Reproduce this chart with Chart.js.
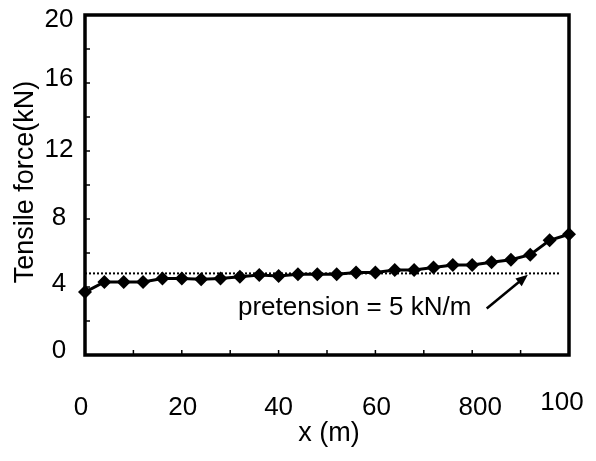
<!DOCTYPE html>
<html>
<head>
<meta charset="utf-8">
<script src="https://cdn.jsdelivr.net/npm/chart.js@4/dist/chart.umd.min.js"></script>
<style>
  html, body { margin: 0; padding: 0; background: #fff; }
  #wrap { width: 596px; height: 461px; }
</style>
</head>
<body>
<div id="wrap"><canvas id="chart" width="596" height="461"></canvas></div>
<script>
// ---------------------------------------------------------------
// data
// ---------------------------------------------------------------
var xValues = [0, 4, 8, 12, 16, 20, 24, 28, 32, 36, 40, 44, 48, 52, 56, 60, 64, 68, 72, 76, 80, 84, 88, 92, 96, 100];
var forceValues = [3.7, 4.3, 4.3, 4.3, 4.5, 4.5, 4.45, 4.5, 4.6, 4.7, 4.65, 4.75, 4.75, 4.75, 4.85, 4.85, 5.0, 5.0, 5.15, 5.3, 5.3, 5.45, 5.6, 5.9, 6.75, 7.1];
var pretensionX = [0, 98];
var pretensionY = [4.8, 4.8];
var xTicks = [0, 20, 40, 60, 80, 100];
var xTickLabels = ["0", "20", "40", "60", "800", "100"];
var yTicks = [0, 4, 8, 12, 16, 20];
var yTickLabels = ["0", "4", "8", "12", "16", "20"];
var noteText = "pretension = 5 kN/m";

var FONT = "'Liberation Sans', Arial, Helvetica, sans-serif";

// small nudges so the labels sit where the scanned figure has them
var xLabelDx = [-4, 1, 0, 1, 8, -7];
var xLabelDy = [0, 0, 0, 0, 0, -5];
var yLabelDy = [-4, -3, -1, -1, -4, 5];

var framePlugin = {
    id: "frame",
    beforeDatasetsDraw: function (chart) {
        var ctx = chart.ctx, a = chart.chartArea;
        var xs = chart.scales.x, ys = chart.scales.y;
        ctx.save();
        ctx.strokeStyle = "#000";
        ctx.lineWidth = 1.5;
        // inward minor ticks
        for (var v = 2; v < 20; v += 2) {
            var py = ys.getPixelForValue(v);
            ctx.beginPath(); ctx.moveTo(a.left, py); ctx.lineTo(a.left + 5, py); ctx.stroke();
        }
        for (var u = 10; u < 100; u += 10) {
            var px = xs.getPixelForValue(u);
            ctx.beginPath(); ctx.moveTo(px, a.bottom); ctx.lineTo(px, a.bottom - 5); ctx.stroke();
        }
        ctx.lineWidth = 3.5;
        ctx.strokeRect(a.left, a.top, a.right - a.left, a.bottom - a.top);

        // tick labels
        ctx.fillStyle = "#000";
        ctx.font = "26px " + FONT;
        ctx.textAlign = "center";
        ctx.textBaseline = "middle";
        xTicks.forEach(function (t, i) {
            ctx.fillText(xTickLabels[i], xs.getPixelForValue(t) + xLabelDx[i], 408 + xLabelDy[i]);
        });
        yTicks.forEach(function (t, i) {
            ctx.fillText(yTickLabels[i], 59, ys.getPixelForValue(t) + yLabelDy[i]);
        });

        // axis titles
        ctx.font = "27px " + FONT;
        ctx.fillText("x (m)", (a.left + a.right) / 2 + 2, 434);
        ctx.save();
        ctx.translate(26, 182);
        ctx.rotate(-Math.PI / 2);
        ctx.fillText("Tensile force(kN)", 0, 0);
        ctx.restore();
        ctx.restore();
    },
    afterDatasetsDraw: function (chart) {
        var ctx = chart.ctx;
        var xs = chart.scales.x, ys = chart.scales.y;
        ctx.save();
        ctx.fillStyle = "#000";
        ctx.font = "26px " + FONT;
        ctx.textBaseline = "alphabetic";
        ctx.textAlign = "left";
        ctx.fillText(noteText, xs.getPixelForValue(31.6), ys.getPixelForValue(2.35));
        // arrow pointing at the pretension line
        var x0 = xs.getPixelForValue(83.0), y0 = ys.getPixelForValue(2.74);
        var x1 = xs.getPixelForValue(91.5), y1 = ys.getPixelForValue(4.72);
        var ang = Math.atan2(y1 - y0, x1 - x0);
        ctx.strokeStyle = "#000";
        ctx.lineWidth = 2.5;
        ctx.beginPath();
        ctx.moveTo(x0, y0);
        ctx.lineTo(x1 - 8 * Math.cos(ang), y1 - 8 * Math.sin(ang));
        ctx.stroke();
        ctx.beginPath();
        ctx.moveTo(x1, y1);
        ctx.lineTo(x1 - 12 * Math.cos(ang) + 5 * Math.sin(ang), y1 - 12 * Math.sin(ang) - 5 * Math.cos(ang));
        ctx.lineTo(x1 - 12 * Math.cos(ang) - 5 * Math.sin(ang), y1 - 12 * Math.sin(ang) + 5 * Math.cos(ang));
        ctx.closePath();
        ctx.fill();
        ctx.restore();
    }
};

var forceData = xValues.map(function (x, i) { return { x: x, y: forceValues[i] }; });
var pretensionData = pretensionX.map(function (x, i) { return { x: x, y: pretensionY[i] }; });

var config = {
    type: "line",
    data: {
        datasets: [
            {
                label: "pretension",
                data: pretensionData,
                borderColor: "#000",
                borderWidth: 2,
                borderDash: [2, 2],
                pointRadius: 0,
                fill: false,
                order: 2,
            },
            {
                label: "Tensile force",
                data: forceData,
                borderColor: "#000",
                backgroundColor: "#000",
                borderWidth: 3,
                pointStyle: "rectRot",
                pointRadius: 7,
                pointBackgroundColor: "#000",
                pointBorderWidth: 0,
                tension: 0,
                clip: false,
                order: 1,
            },
        ],
    },
    options: {
        responsive: false,
        animation: false,
        devicePixelRatio: 1,
        layout: {
            padding: { top: 15, right: 27, left: 0, bottom: 0 },
        },
        plugins: {
            legend: { display: false },
            tooltip: { enabled: false },
        },
        scales: {
            x: {
                type: "linear",
                min: 0,
                max: 100,
                grid: { display: false, drawTicks: false },
                border: { display: false },
                ticks: { display: false, stepSize: 20 },
                afterFit: function (scale) { scale.height = 106; },
            },
            y: {
                type: "linear",
                min: 0,
                max: 20,
                grid: { display: false, drawTicks: false },
                border: { display: false },
                ticks: { display: false, stepSize: 4 },
                afterFit: function (scale) { scale.width = 85; },
            },
        },
    },
    plugins: [framePlugin],
};

var chart = new Chart(document.getElementById("chart"), config);
</script>
</body>
</html>
